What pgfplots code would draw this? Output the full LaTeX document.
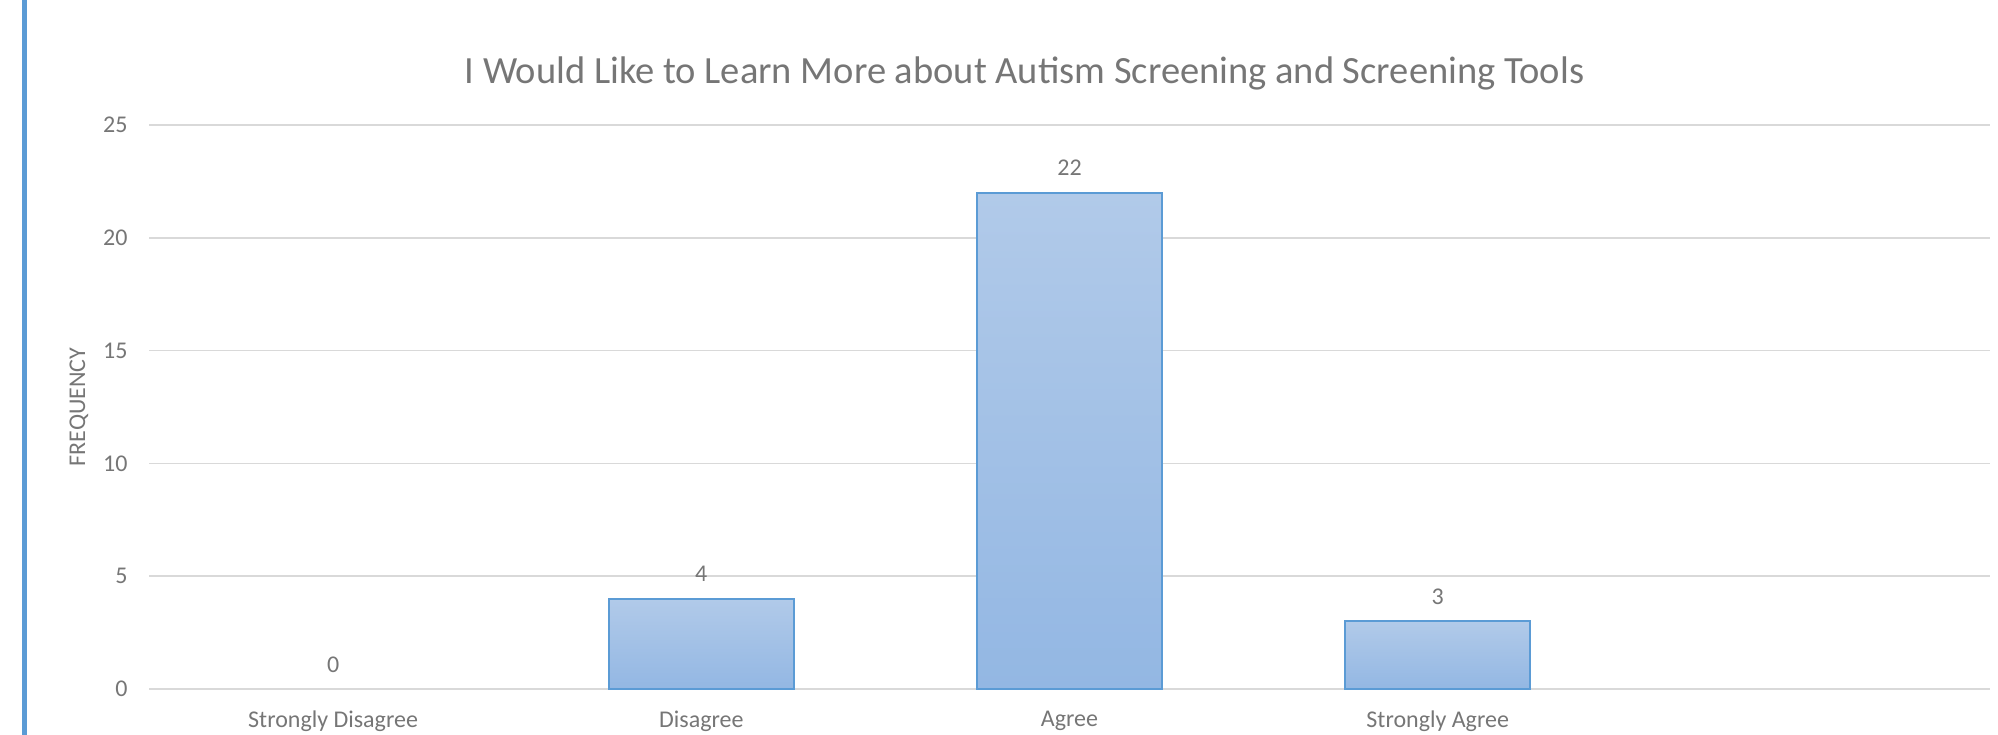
\documentclass[border=0pt]{standalone}
\usepackage{fontspec}
\setmainfont{Carlito}
\usepackage{pgfplots}
\pgfplotsset{compat=1.18}
\definecolor{txt}{HTML}{767676}
\definecolor{gridc}{HTML}{D9D9D9}
\definecolor{edge}{HTML}{5B9BD5}
\definecolor{topc}{HTML}{B1CAE9}
\definecolor{botc}{HTML}{93B7E3}
\begin{document}
\begin{tikzpicture}[x=1pt,y=1pt]
\path[use as bounding box] (0,0) rectangle (799.2,294);
\draw[edge, line width=2pt] (9.8,0) -- (9.8,294);
\node[txt, font=\fontsize{15.4}{18}\selectfont] at (409.8,264.8) {I Would Like to Learn More about Autism Screening and Screening Tools};
\begin{axis}[
  at={(59.6pt,18.4pt)}, anchor=south west,
  width=736.4pt, height=225.6pt, scale only axis,
  /pgf/number format/assume math mode=true,
  axis line style={draw=none},
  xmin=-0.5, xmax=4.5, ymin=0, ymax=25,
  ytick={0,5,...,25},
  xtick={0,1,2,3},
  xticklabels={Strongly Disagree,Disagree,Agree,Strongly Agree},
  ymajorgrids, xmajorgrids=false,
  grid style={draw=gridc, line width=0.6pt},
  major tick length=0pt,
  tick style={draw=none},
  tick label style={txt, font=\fontsize{9.6}{11}\selectfont},
  yticklabel style={anchor=east, inner sep=0pt, xshift=-8.4pt},
  xticklabel style={anchor=north, inner sep=0pt, yshift=-8.5pt},
  clip=false,
  ylabel={FREQUENCY},
  every axis y label/.style={at={(rel axis cs:0,0.5)}, rotate=90, anchor=center, yshift=28pt, txt, font=\fontsize{9.6}{11}\selectfont},
  nodes near coords,
  every node near coord/.append style={txt, font=\fontsize{9.6}{11}\selectfont, yshift=3pt},
  barsty/.style={ybar, bar width=73.9pt, bar shift=0pt, draw=edge, line width=0.8pt, top color=topc, bottom color=botc},
]
\addplot[barsty] coordinates {(1,4)};
\addplot[barsty] coordinates {(2,22)};
\addplot[barsty] coordinates {(3,3)};
\addplot[ybar, bar width=73.9pt, bar shift=0pt, draw=none, fill=none]
  coordinates {(0,0)};
\end{axis}
\end{tikzpicture}
\end{document}
